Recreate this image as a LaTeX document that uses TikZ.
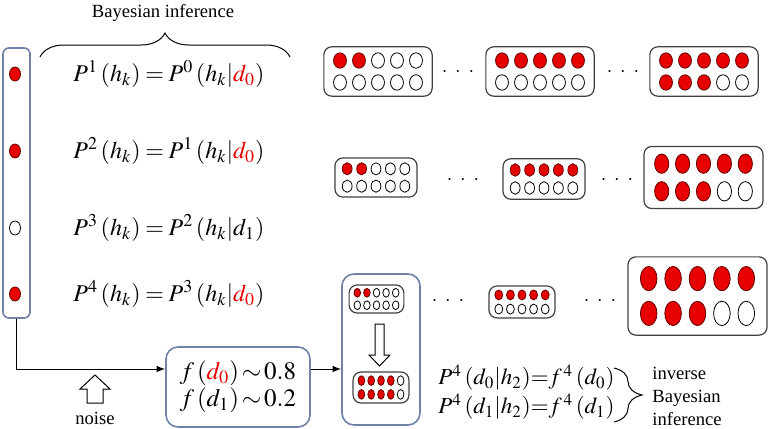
\documentclass[tikz,border=0pt]{standalone}
\usepackage[no-math]{fontspec}
\usepackage{mathptmx}
\setmainfont{Liberation Serif}
\usetikzlibrary{decorations.pathreplacing}

\definecolor{dotred}{RGB}{230,0,0}
\definecolor{boxblue}{RGB}{112,130,168}

\newcommand{\tighteq}{\thickmuskip=3.5mu plus 1mu\relax}

\tikzset{
  ondot/.style={fill=dotred, draw=black!60!red, line width=0.4pt},
  offdot/.style={fill=white, draw=black, line width=0.4pt},
  gridbox/.style={draw=black!75, rounded corners=4pt, line width=0.6pt},
  bluebox/.style={draw=boxblue, rounded corners=5pt, line width=0.8pt},
  eqn/.style={anchor=west, inner sep=0pt, font=\fontsize{12}{14}\selectfont\tighteq},
  lbl/.style={inner sep=0pt, font=\fontsize{9.3}{11.7}\selectfont},
  blockarrow/.style={draw=black, fill=white, line width=0.5pt},
}

% grid of 2x5 dots: center, x step, y step, red on top row, red on bottom row
\newcommand{\dotgrid}[5]{%
  \begin{scope}[shift={#1}, xscale=#2, yscale=#3]
    \draw[gridbox] (-2.85,-1.35) rectangle (2.85,1.35);
    \foreach \i in {1,...,5}{
      \ifnum\i>#4 \draw[offdot] (\i-3,-0.6) ellipse [x radius=0.34, y radius=0.42];
      \else \draw[ondot] (\i-3,-0.6) ellipse [x radius=0.34, y radius=0.42];
      \fi
      \ifnum\i>#5 \draw[offdot] (\i-3,0.6) ellipse [x radius=0.34, y radius=0.42];
      \else \draw[ondot] (\i-3,0.6) ellipse [x radius=0.34, y radius=0.42];
      \fi
    }
  \end{scope}}

\newcommand{\dts}{$\cdot\ \cdot\ \cdot$}

\begin{document}
\begin{tikzpicture}[x=0.5pt, y=-0.5pt]
  \useasboundingbox (0,0) rectangle (768,429);

  % left column of observations
  \node[bluebox, rounded corners=3pt, minimum width=13.5pt, minimum height=135pt] (lcol) at (16.5,183) {};
  \draw[ondot] (15,74) ellipse [x radius=5.5, y radius=7];
  \draw[ondot] (15,151) ellipse [x radius=5.5, y radius=7];
  \draw[offdot] (15,228) ellipse [x radius=5.5, y radius=7];
  \draw[ondot] (15,294) ellipse [x radius=5.5, y radius=7];

  % updates
  \node[eqn] (eqA) at (73,74) {$P^1\,(h_k) = P^0\,(h_k|\textcolor{dotred}{d_0})$};
  \node[eqn] (eqB) at (73,151) {$P^2\,(h_k) = P^1\,(h_k|\textcolor{dotred}{d_0})$};
  \node[eqn] (eqC) at (73,228) {$P^3\,(h_k) = P^2\,(h_k|d_1)$};
  \node[eqn] (eqD) at (73,294) {$P^4\,(h_k) = P^3\,(h_k|\textcolor{dotred}{d_0})$};

  \draw[decorate, decoration={brace, amplitude=12pt}, line width=0.5pt] (40,57) -- (290,57);
  \node[lbl] (bayes) at (163,13) {Bayesian inference};

  % hypotheses
  \dotgrid{(378,71.5)}{19}{18.3}{2}{0}
  \dotgrid{(540,71.5)}{19}{18.3}{5}{0}
  \dotgrid{(704,71.5)}{19}{18.3}{5}{3}
  \node (dA) at (458,72) {\dts};
  \node (dB) at (623,72) {\dts};

  \dotgrid{(376,177.5)}{14.4}{14.5}{2}{0}
  \dotgrid{(544,179)}{14.4}{15}{5}{0}
  \dotgrid{(703.5,177.5)}{20.9}{23}{5}{3}
  \node (dC) at (463,180) {\dts};
  \node (dD) at (617,180) {\dts};

  \node[bluebox, rounded corners=6pt, minimum width=39pt, minimum height=75.5pt] (bigbox) at (381,349.5) {};
  \dotgrid{(376.5,299)}{9.6}{10.4}{2}{0}
  \dotgrid{(522,302)}{11.6}{11.8}{5}{0}
  \dotgrid{(697.5,296)}{24.4}{29}{5}{3}
  \node (dE) at (448,301) {\dts};
  \node (dF) at (600,301) {\dts};
  \draw[blockarrow] (375,324) -- (384,324) -- (384,355) -- (390,355) -- (379.5,366) -- (369,355) -- (375,355) -- cycle;
  \dotgrid{(381,387.5)}{9.8}{11.5}{4}{4}

  % data frequencies
  \node[bluebox, rounded corners=6pt, minimum width=72pt, minimum height=40pt, align=center,
        font=\fontsize{12.5}{13.5}\selectfont] (fbox) at (238,387)
        {$f\,(\textcolor{dotred}{d_0})\,{\sim}\,0.8$\\ $f\,(d_1)\,{\sim}\,0.2$};
  \draw[-latex, line width=0.5pt] (lcol.south) |- ([yshift=9pt]fbox.west);
  \draw[-latex, line width=0.5pt] ([yshift=9pt]fbox.east) -- ([yshift=9pt]fbox.east -| bigbox.west);

  \draw[blockarrow] (87,403) -- (87,389) -- (80,389) -- (95,375) -- (110,389) -- (103,389) -- (103,403) -- cycle;
  \node[lbl] (noise) at (95,418) {noise};

  % inverse step
  \node[eqn, font=\fontsize{11.5}{13}\selectfont] (invA) at (438,378) {$P^4\,(d_0|h_2){=}f^{\,4}\,(d_0)$};
  \node[eqn, font=\fontsize{11.5}{13}\selectfont] (invB) at (438,407) {$P^4\,(d_1|h_2){=}f^{\,4}\,(d_1)$};
  \draw[decorate, decoration={brace, amplitude=14pt}, line width=0.5pt] (614,368) -- (614,422);
  \node[lbl, anchor=west, align=left] (inv) at (652,396.5) {inverse\\ Bayesian\\ inference};
\end{tikzpicture}
\end{document}
